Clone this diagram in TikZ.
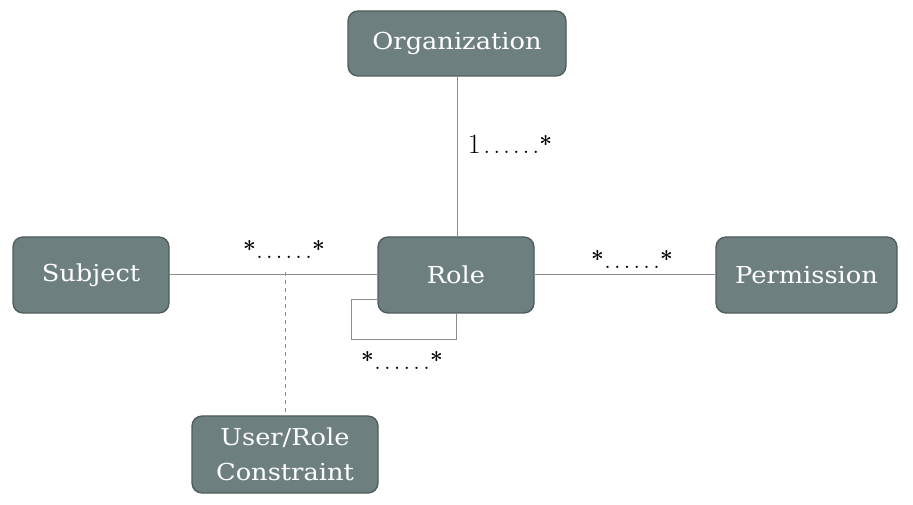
\documentclass[tikz,border=0pt]{standalone}
\usepackage{fontspec}
\newfontfamily\boxfont[FakeStretch=1.1]{DejaVu Serif}
\newfontfamily\multfont[LetterSpace=10]{Latin Modern Roman}
\usepackage{tikz}
\usetikzlibrary{positioning}
\definecolor{boxfill}{HTML}{6E7F80}
\definecolor{boxedge}{HTML}{4F5C5D}
\definecolor{wire}{HTML}{8C8C8C}
\newcommand{\multstar}{\raisebox{1pt}{\fontsize{17}{17}\selectfont\bfseries *}}

\begin{document}
\begin{tikzpicture}[x=0.75pt, y=-0.75pt,
    entity/.style={draw=boxedge, line width=1pt, fill=boxfill, rounded corners=7.5pt, text=white,
        font=\boxfont\fontsize{17.5}{26}\selectfont, align=center, inner sep=0pt, minimum height=57pt},
    link/.style={draw=wire, line width=0.75pt},
    mult/.style={font=\multfont\fontsize{21}{24}\selectfont, inner sep=0pt, anchor=base}]
    \useasboundingbox (0,0) rectangle (913,505);
    % Entity boxes
    \node[entity, minimum width=163.5pt, minimum height=48.75pt] (org) at (457,43.5) {Organization};
    \node[entity, minimum width=117pt] (role) at (456,275) {Role};
    \node[entity, minimum width=117pt] (subj) at (91,275) {Subject};
    \node[entity, minimum width=135.75pt] (perm) at (806.5,275) {Permission};
    \node[entity, minimum width=139.5pt, minimum height=57.75pt] (cons) at (285,454.5) {User/Role\\Constraint};
    % Connectors
    \draw[link] (org.south -| role.north) ++(1,0) -- ([xshift=0.75pt]role.north);
    \draw[link] (subj.east) -- (role.west);
    \draw[link] (role.east) -- (perm.west);
    \coordinate (tap) at (285,272);
    \draw[link, dashed] (tap) -- (cons.north);
    \draw[link] ([yshift=-18.75pt]role.west) -- ++(-26,0) -- ++(0,40) -| (role.south);
    % Multiplicities
    \foreach \n/\x/\y/\t in {morg/510/154/{1......\multstar}, msubj/284/259/{\multstar......\multstar},
        mperm/632/269/{\multstar......\multstar}, mrole/402/370/{\multstar......\multstar}} {
        \node[mult] (\n) at (\x,\y) {\t};
    }
\end{tikzpicture}
\end{document}
